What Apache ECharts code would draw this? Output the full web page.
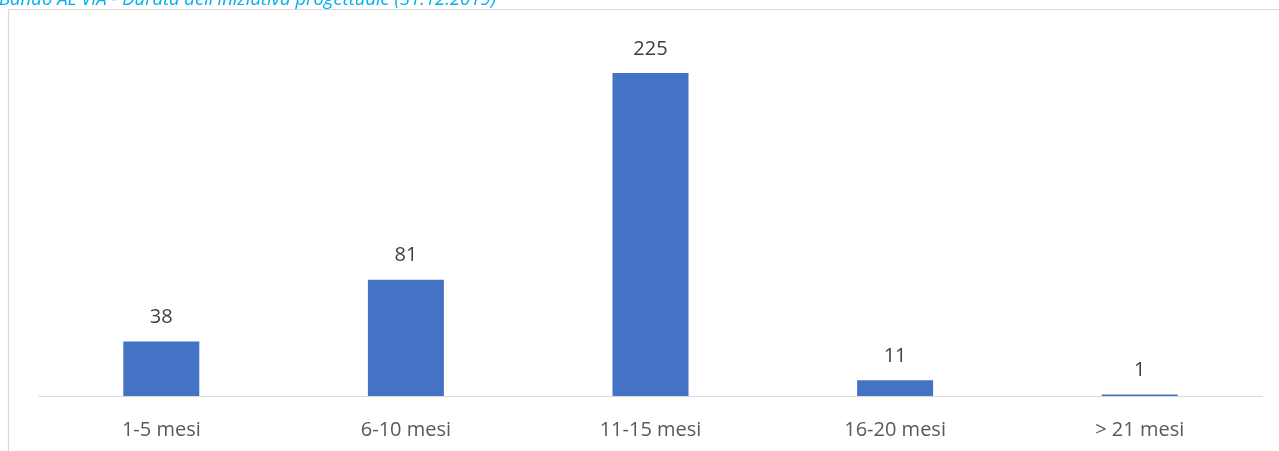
<!DOCTYPE html>
<html>
<head>
<meta charset="utf-8">
<script src="https://cdn.jsdelivr.net/npm/echarts@6/dist/echarts.min.js"></script>
<style>
html,body{margin:0;padding:0;background:#fff;}
#chart{width:1279px;height:451px;}
</style>
</head>
<body>
<div id="chart"></div>
<script>
const titleText = "Bando AL VIA - Durata dell'iniziativa progettuale (31.12.2019)";
const categories = ["1-5 mesi", "6-10 mesi", "11-15 mesi", "16-20 mesi", "> 21 mesi"];
const values = [38, 81, 225, 11, 1];

const chart = echarts.init(document.getElementById('chart'));
chart.setOption({
  animation: false,
  backgroundColor: '#ffffff',
  title: {
    text: titleText,
    left: -1,
    top: -10,
    padding: 0,
    textStyle: {
      fontFamily: 'Open Sans',
      fontStyle: 'italic',
      fontWeight: 'normal',
      fontSize: 18.5,
      color: '#00B0F0'
    }
  },
  graphic: [{
    type: 'rect',
    shape: { x: 8.5, y: 9.5, width: 1290, height: 460 },
    style: { fill: 'none', stroke: '#D9D9D9', lineWidth: 1.2 },
    silent: true
  }],
  grid: { left: 39, right: 17, top: 37, bottom: 55 },
  xAxis: {
    type: 'category',
    data: categories,
    axisLine: { lineStyle: { color: '#D9D9D9', width: 1.2 } },
    axisTick: { show: false },
    axisLabel: {
      margin: 24,
      fontFamily: 'Open Sans',
      fontSize: 20,
      color: '#595959'
    }
  },
  yAxis: {
    type: 'value',
    min: 0,
    max: 250,
    show: false,
    splitLine: { show: false }
  },
  series: [{
    type: 'bar',
    data: values,
    barWidth: 76,
    itemStyle: { color: '#4472C4' },
    label: {
      show: true,
      position: 'top',
      distance: 14,
      fontFamily: 'Open Sans',
      fontSize: 20,
      color: '#404040'
    }
  }]
});
</script>
</body>
</html>
